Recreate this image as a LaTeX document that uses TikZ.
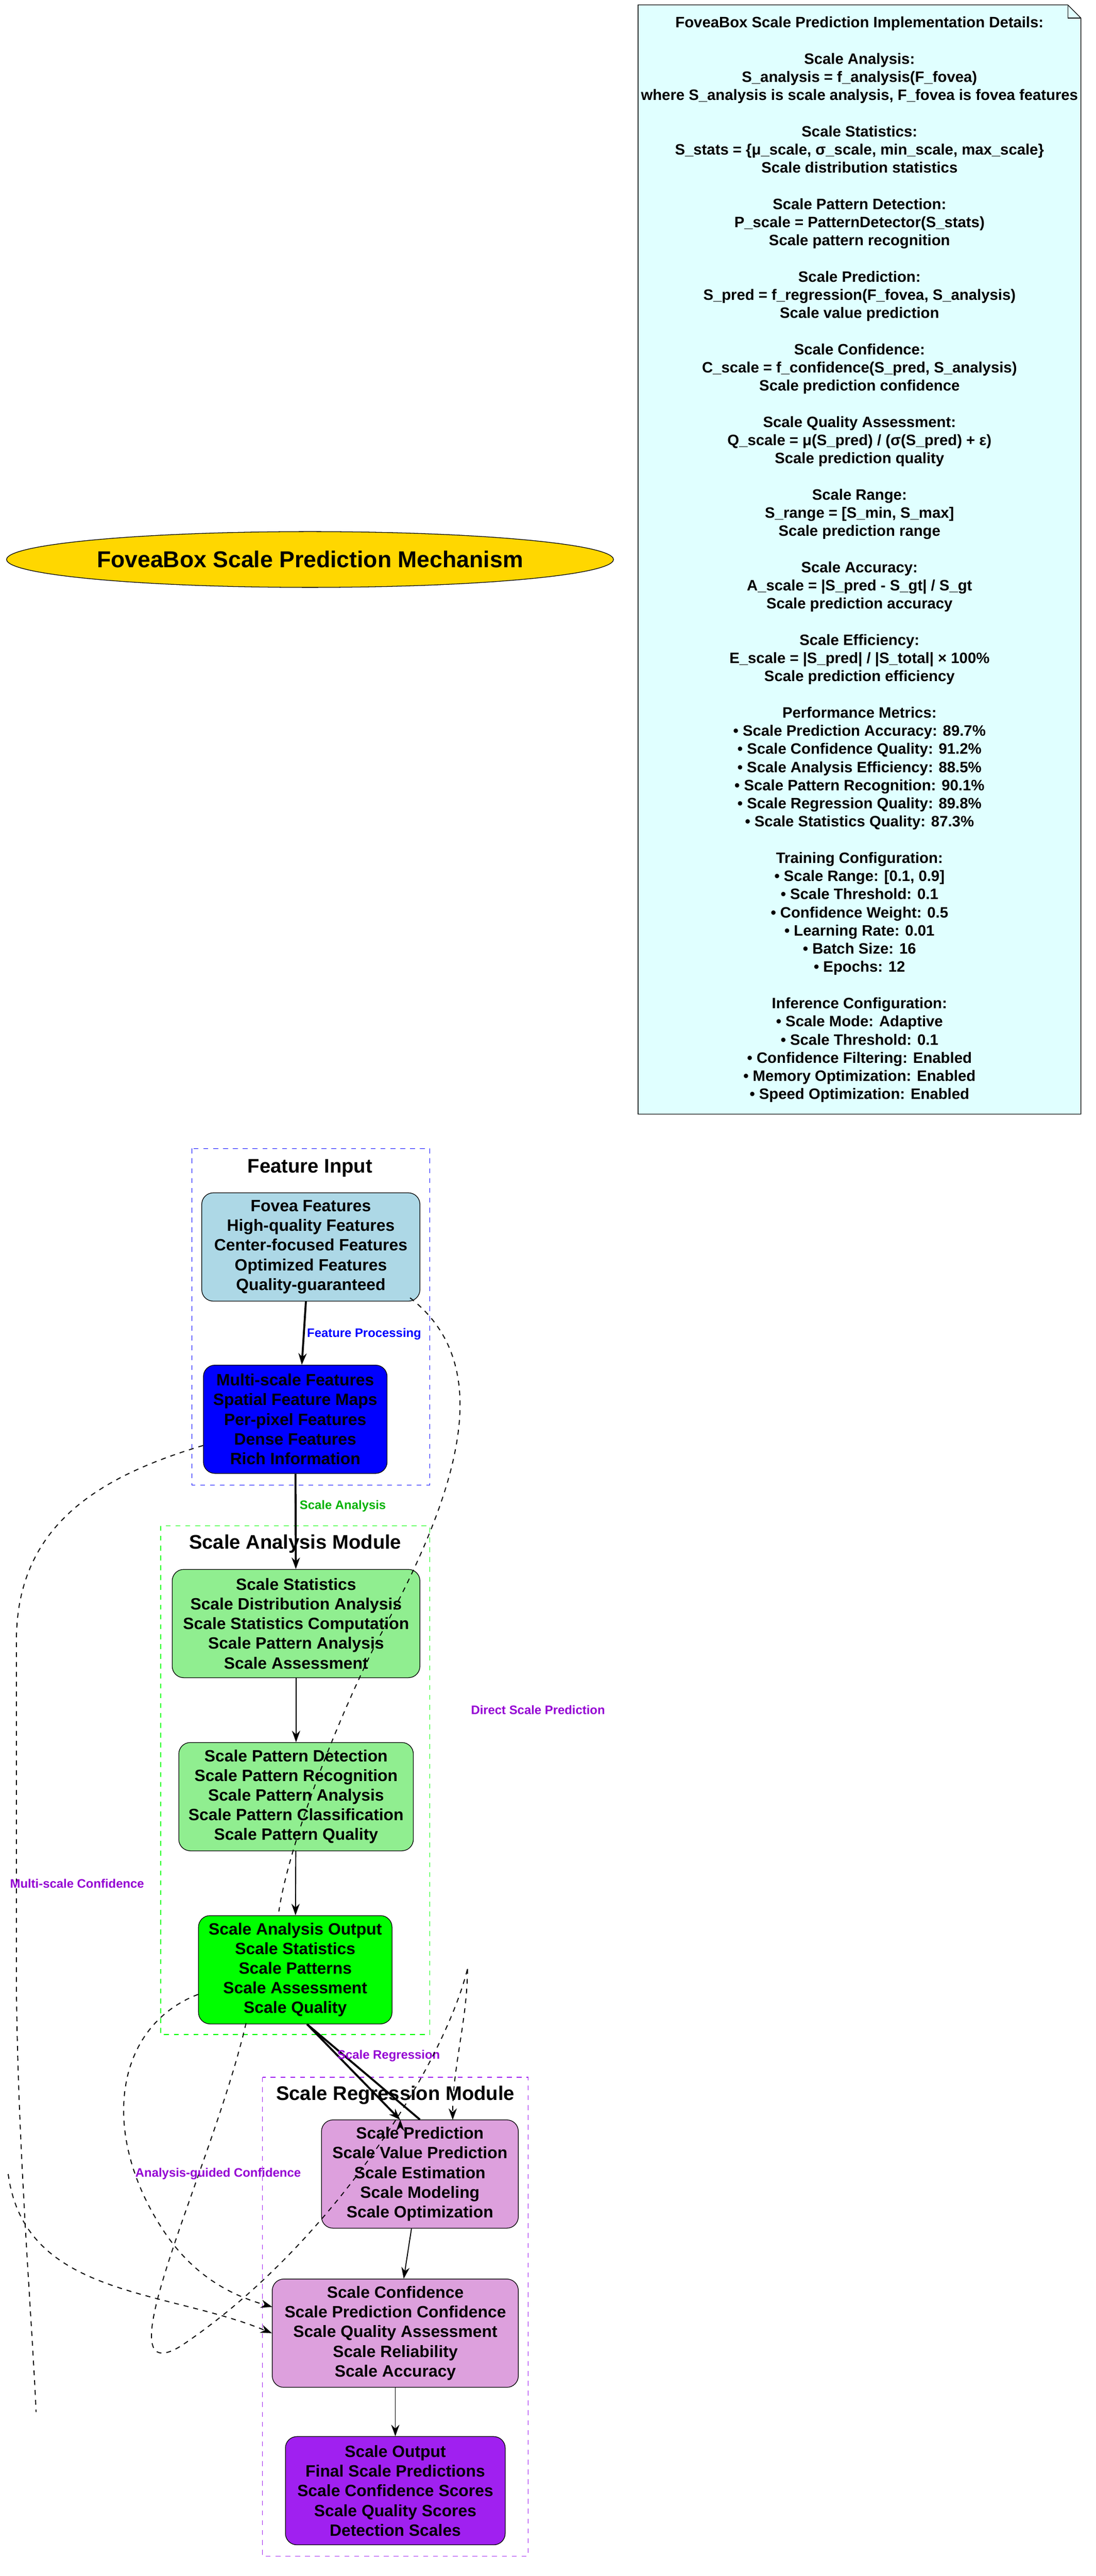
\documentclass[tikz,border=0pt]{standalone}
\usepackage{fontspec}
\setmainfont{Liberation Sans}
\usetikzlibrary{shapes.geometric,shapes.misc,arrows.meta}
\definecolor{gold}{HTML}{FFD700}
\definecolor{lcyan}{HTML}{E0FFFF}
\definecolor{lblue}{HTML}{ADD8E6}
\definecolor{lgreen}{HTML}{90EE90}
\definecolor{plum}{HTML}{DDA0DD}
\definecolor{purp}{HTML}{A020F0}
\definecolor{vio}{HTML}{9400D3}
\begin{document}
\begin{tikzpicture}[x=1pt,y=-1pt,
  box/.style={draw,rounded corners=7pt,align=center,font=\fontsize{10}{12}\selectfont\bfseries,inner sep=0pt,minimum height=66pt},
  clus/.style={draw,dashed,thin},
  ctitle/.style={font=\fontsize{12}{14}\selectfont\bfseries},
  elab/.style={font=\fontsize{7.5}{9}\selectfont\bfseries},
  main/.style={-{Stealth[length=7pt,width=5pt]},line width=1.2pt},
  thin1/.style={-{Stealth[length=7pt,width=5pt]},line width=0.6pt},
  dsh/.style={dashed,line width=0.6pt},
  dsha/.style={dashed,line width=0.6pt,-{Stealth[length=7pt,width=5pt]}}]
\useasboundingbox (0,0) rectangle (668,1570);
% title
\node[ellipse,draw,fill=gold,minimum width=370pt,minimum height=34pt,inner sep=0pt,font=\fontsize{14}{16}\selectfont\bfseries] (title) at (189,341) {FoveaBox Scale Prediction Mechanism};
% note
\draw[fill=lcyan] (389,3) -- (651,3) -- (659,11) -- (659,679) -- (389,679) -- cycle;
\draw (651,3) -- (651,11) -- (659,11);
\node[align=center,anchor=north,font=\fontsize{9.2}{11.07}\selectfont\bfseries,inner sep=0pt] (note) at (524,10) {FoveaBox Scale Prediction Implementation Details:\\[11.07pt]
Scale Analysis:\\ S\_analysis = f\_analysis(F\_fovea)\\ where S\_analysis is scale analysis, F\_fovea is fovea features\\[11.07pt]
Scale Statistics:\\ S\_stats = \{μ\_scale, σ\_scale, min\_scale, max\_scale\}\\ Scale distribution statistics\\[11.07pt]
Scale Pattern Detection:\\ P\_scale = PatternDetector(S\_stats)\\ Scale pattern recognition\\[11.07pt]
Scale Prediction:\\ S\_pred = f\_regression(F\_fovea, S\_analysis)\\ Scale value prediction\\[11.07pt]
Scale Confidence:\\ C\_scale = f\_confidence(S\_pred, S\_analysis)\\ Scale prediction confidence\\[11.07pt]
Scale Quality Assessment:\\ Q\_scale = μ(S\_pred) / (σ(S\_pred) + ε)\\ Scale prediction quality\\[11.07pt]
Scale Range:\\ S\_range = [S\_min, S\_max]\\ Scale prediction range\\[11.07pt]
Scale Accuracy:\\ A\_scale = |S\_pred - S\_gt| / S\_gt\\ Scale prediction accuracy\\[11.07pt]
Scale Efficiency:\\ E\_scale = |S\_pred| / |S\_total| × 100\%\\ Scale prediction efficiency\\[11.07pt]
Performance Metrics:\\ • Scale Prediction Accuracy: 89.7\%\\ • Scale Confidence Quality: 91.2\%\\ • Scale Analysis Efficiency: 88.5\%\\ • Scale Pattern Recognition: 90.1\%\\ • Scale Regression Quality: 89.8\%\\ • Scale Statistics Quality: 87.3\%\\[11.07pt]
Training Configuration:\\ • Scale Range: [0.1, 0.9]\\ • Scale Threshold: 0.1\\ • Confidence Weight: 0.5\\ • Learning Rate: 0.01\\ • Batch Size: 16\\ • Epochs: 12\\[11.07pt]
Inference Configuration:\\ • Scale Mode: Adaptive\\ • Scale Threshold: 0.1\\ • Confidence Filtering: Enabled\\ • Memory Optimization: Enabled\\ • Speed Optimization: Enabled};
% clusters
\draw[clus,blue] (117,700) rectangle (262,905);
\node[ctitle] (c1) at (189,712) {Feature Input};
\draw[clus,green] (98,930) rectangle (262,1240);
\node[ctitle] (c2) at (180,941) {Scale Analysis Module};
\draw[clus,purp] (160,1266) rectangle (322,1558);
\node[ctitle] (c3) at (241,1277) {Scale Regression Module};
% nodes
\node[box,fill=lblue,minimum width=133pt] (fovea) at (189.5,760) {Fovea Features\\High-quality Features\\Center-focused Features\\Optimized Features\\Quality-guaranteed};
\node[box,fill=blue,minimum width=112pt] (multi) at (180,865) {Multi-scale Features\\Spatial Feature Maps\\Per-pixel Features\\Dense Features\\Rich Information};
\node[box,fill=lgreen,minimum width=151pt] (stats) at (180.5,989.5) {Scale Statistics\\Scale Distribution Analysis\\Scale Statistics Computation\\Scale Pattern Analysis\\Scale Assessment};
\node[box,fill=lgreen,minimum width=143pt] (pattern) at (180.5,1095) {Scale Pattern Detection\\Scale Pattern Recognition\\Scale Pattern Analysis\\Scale Pattern Classification\\Scale Pattern Quality};
\node[box,fill=green,minimum width=118pt] (aout) at (180,1200.5) {Scale Analysis Output\\Scale Statistics\\Scale Patterns\\Scale Assessment\\Scale Quality};
\node[box,fill=plum,minimum width=120pt] (pred) at (256,1325) {Scale Prediction\\Scale Value Prediction\\Scale Estimation\\Scale Modeling\\Scale Optimization};
\node[box,fill=plum,minimum width=150pt] (conf) at (241,1422) {Scale Confidence\\Scale Prediction Confidence\\Scale Quality Assessment\\Scale Reliability\\Scale Accuracy};
\node[box,fill=purp,minimum width=134pt] (sout) at (241,1518) {Scale Output\\Final Scale Predictions\\Scale Confidence Scores\\Scale Quality Scores\\Detection Scales};
% solid edges
\draw[main] (fovea.south) ++(-3,0) -- (multi.north -| 184,0);
\node[elab,text=blue] (l1) at (222,813) {Feature Processing};
\draw[main] (multi) -- (stats);
\node[elab,text=green!70!black] (l2) at (209,918) {Scale Analysis};
\draw[thin1] (stats) -- (pattern);
\draw[thin1] (pattern) -- (aout);
\draw[main] (aout.south east) ++(-52,0) coordinate (a1) -- (pred.north) ++(-12,0);
\draw[main] (a1) -- (244,1292);
\node[elab,text=vio] (l3) at (237,1253) {Scale Regression};
\draw[thin1] (pred) -- (conf);
\draw[thin1] (conf) -- (sout);
% dashed edges
\coordinate (d1) at (250,791);
\coordinate (d2) at (150,1233);
\coordinate (d3) at (285,1200);
\draw[dsh] (d1) .. controls (300,830) and (285,900) .. (230,1000) .. controls (200,1060) and (175,1130) .. (170,1165);
\draw[dsh] (d2) .. controls (130,1320) and (60,1460) .. (110,1430) .. controls (200,1370) and (270,1260) .. (d3);
\draw[dsha] (d3) .. controls (285,1230) and (276,1260) .. (276,1292);
\node[elab,text=vio] (l4) at (328,1042) {Direct Scale Prediction};
\coordinate (m2) at (22,1470);
\coordinate (m3) at (5,1325);
\draw[dsh] (multi.west) ++(0,16) .. controls (60,900) and (10,930) .. (10,1000) -- (10,1200) .. controls (10,1300) and (20,1420) .. (m2);
\draw[dsha] (m3) .. controls (15,1400) and (100,1395) .. (conf.west);
\node[elab,text=vio] (l5) at (47,1148) {Multi-scale Confidence};
\draw[dsha] (aout.west) ++(0,15) .. controls (70,1235) and (60,1300) .. (100,1360) .. controls (120,1390) and (145,1400) .. (166,1406);
\node[elab,text=vio] (l6) at (133,1325) {Analysis-guided Confidence};
\end{tikzpicture}
\end{document}
